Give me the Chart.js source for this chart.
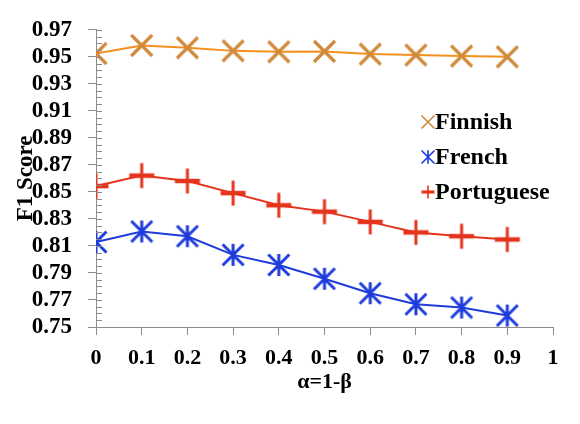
<!DOCTYPE html>
<html>
<head>
<meta charset="utf-8">
<script src="https://cdn.jsdelivr.net/npm/chart.js@4"></script>
<style>
  html, body { margin: 0; padding: 0; background: #fff; }
  #wrap { width: 580px; height: 424px; }
</style>
</head>
<body>
<div id="wrap"><canvas id="myChart"></canvas></div>
<script>
const alphas = [0, 0.1, 0.2, 0.3, 0.4, 0.5, 0.6, 0.7, 0.8, 0.9];
const finnish = [0.9525, 0.9584, 0.9567, 0.9544, 0.9537, 0.954, 0.952, 0.9513, 0.9506, 0.950];
const french = [0.8129, 0.8207, 0.8172, 0.8034, 0.7959, 0.7857, 0.775, 0.7668, 0.7644, 0.7585];
const portuguese = [0.8543, 0.8621, 0.8581, 0.8491, 0.8401, 0.8354, 0.8278, 0.82, 0.8172, 0.8148];
const seriesNames = ["Finnish", "French", "Portuguese"];

const font = "Liberation Serif";
const axisGray = "#8c8c8c";
const markerCols = ["#d08a3c", "#1e3cdc", "#e4341c"];
const lineCols = ["#f4901e", "#1e3cdc", "#e4341c"];

function pts(vals) {
  return alphas.map((a, i) => ({ x: a, y: vals[i] }));
}

// excel-like markers: x, asterisk (x + vertical bar), plus
function drawMarker(ctx, kind, cx, cy, r, lw) {
  ctx.lineWidth = lw;
  ctx.beginPath();
  if (kind === "x" || kind === "star") {
    ctx.moveTo(cx - r, cy - r); ctx.lineTo(cx + r, cy + r);
    ctx.moveTo(cx - r, cy + r); ctx.lineTo(cx + r, cy - r);
  }
  if (kind === "star") {
    ctx.moveTo(cx, cy - r * 1.05); ctx.lineTo(cx, cy + r * 1.05);
  }
  if (kind === "plus") {
    ctx.moveTo(cx, cy - r); ctx.lineTo(cx, cy + r);
    ctx.stroke();
    ctx.beginPath();
    ctx.lineWidth = lw + 1.5;
    ctx.moveTo(cx - r, cy); ctx.lineTo(cx + r, cy);
  }
  ctx.stroke();
}

function markerImage(kind, col, r, lw) {
  const size = Math.ceil(2 * r + lw + 4);
  const c = document.createElement("canvas");
  c.width = size; c.height = size;
  const ctx = c.getContext("2d");
  ctx.strokeStyle = col;
  ctx.lineCap = "butt";
  drawMarker(ctx, kind, size / 2, size / 2, r, lw);
  return c;
}

// minor ticks and the inner half of the major y ticks
const ticksPlugin = {
  id: "ticks",
  afterDraw(chart) {
    const ctx = chart.ctx;
    const y = chart.scales.y;
    const left = chart.chartArea.left;
    ctx.save();
    ctx.strokeStyle = axisGray;
    ctx.lineWidth = 1;
    ctx.beginPath();
    for (let v = 0.75; v <= 0.9701; v += 0.005) {
      const py = Math.round(y.getPixelForValue(v)) + 0.5;
      ctx.moveTo(left, py);
      ctx.lineTo(left + 6, py);
    }
    ctx.stroke();
    ctx.restore();
  }
};

const legendPlugin = {
  id: "sideLegend",
  afterDraw(chart) {
    const ctx = chart.ctx;
    const kinds = ["x", "star", "plus"];
    const rows = [122, 157, 192];
    ctx.save();
    ctx.font = "bold 24px '" + font + "'";
    ctx.textBaseline = "middle";
    seriesNames.forEach((name, i) => {
      ctx.strokeStyle = markerCols[i];
      drawMarker(ctx, kinds[i], 428, rows[i], 6.5, 1.6);
      ctx.fillStyle = "#000";
      ctx.fillText(name, 435, rows[i] + 1);
    });
    ctx.restore();
  }
};

const data = {
  datasets: [
    {
      label: "Finnish",
      data: pts(finnish),
      borderColor: lineCols[0],
      borderWidth: 2,
      pointStyle: markerImage("x", markerCols[0], 10.5, 3.2),
    },
    {
      label: "French",
      data: pts(french),
      borderColor: lineCols[1],
      borderWidth: 2,
      pointStyle: markerImage("star", markerCols[1], 10.5, 3),
    },
    {
      label: "Portuguese",
      data: pts(portuguese),
      borderColor: lineCols[2],
      borderWidth: 2,
      pointStyle: markerImage("plus", markerCols[2], 12.5, 3),
    },
  ],
};

const config = {
  type: "line",
  data: data,
  options: {
    responsive: true,
    maintainAspectRatio: false,
    animation: false,
    layout: { padding: { left: 8, right: 27, top: 17, bottom: 24 } },
    plugins: { legend: { display: false }, tooltip: { enabled: false } },
    scales: {
      x: {
        type: "linear",
        min: 0,
        max: 1,
        afterFit: (s) => { s.height = 73; },
        ticks: {
          stepSize: 0.1,
          autoSkip: false,
          maxRotation: 0,
          padding: 10,
          color: "#000",
          font: { family: font, size: 22, weight: "bold" },
          callback: (v) => String(Number(v.toFixed(1))),
        },
        grid: { drawOnChartArea: false, tickLength: 8, color: axisGray },
        border: { color: axisGray },
        title: {
          display: true,
          text: "α=1-β",
          color: "#000",
          font: { family: font, size: 22, weight: "bold" },
        },
      },
      y: {
        min: 0.75,
        max: 0.97,
        afterFit: (s) => { s.width = 88; },
        ticks: {
          stepSize: 0.02,
          autoSkip: false,
          padding: 16,
          color: "#000",
          font: { family: font, size: 23, weight: "bold" },
          callback: (v) => v.toFixed(2),
        },
        grid: { drawOnChartArea: false, tickLength: 8, color: axisGray },
        border: { color: axisGray },
        title: {
          display: true,
          text: "F1 Score",
          color: "#000",
          font: { family: font, size: 23, weight: "bold" },
        },
      },
    },
  },
  plugins: [ticksPlugin, legendPlugin],
};

const myChart = new Chart(document.getElementById("myChart"), config);
</script>
</body>
</html>
